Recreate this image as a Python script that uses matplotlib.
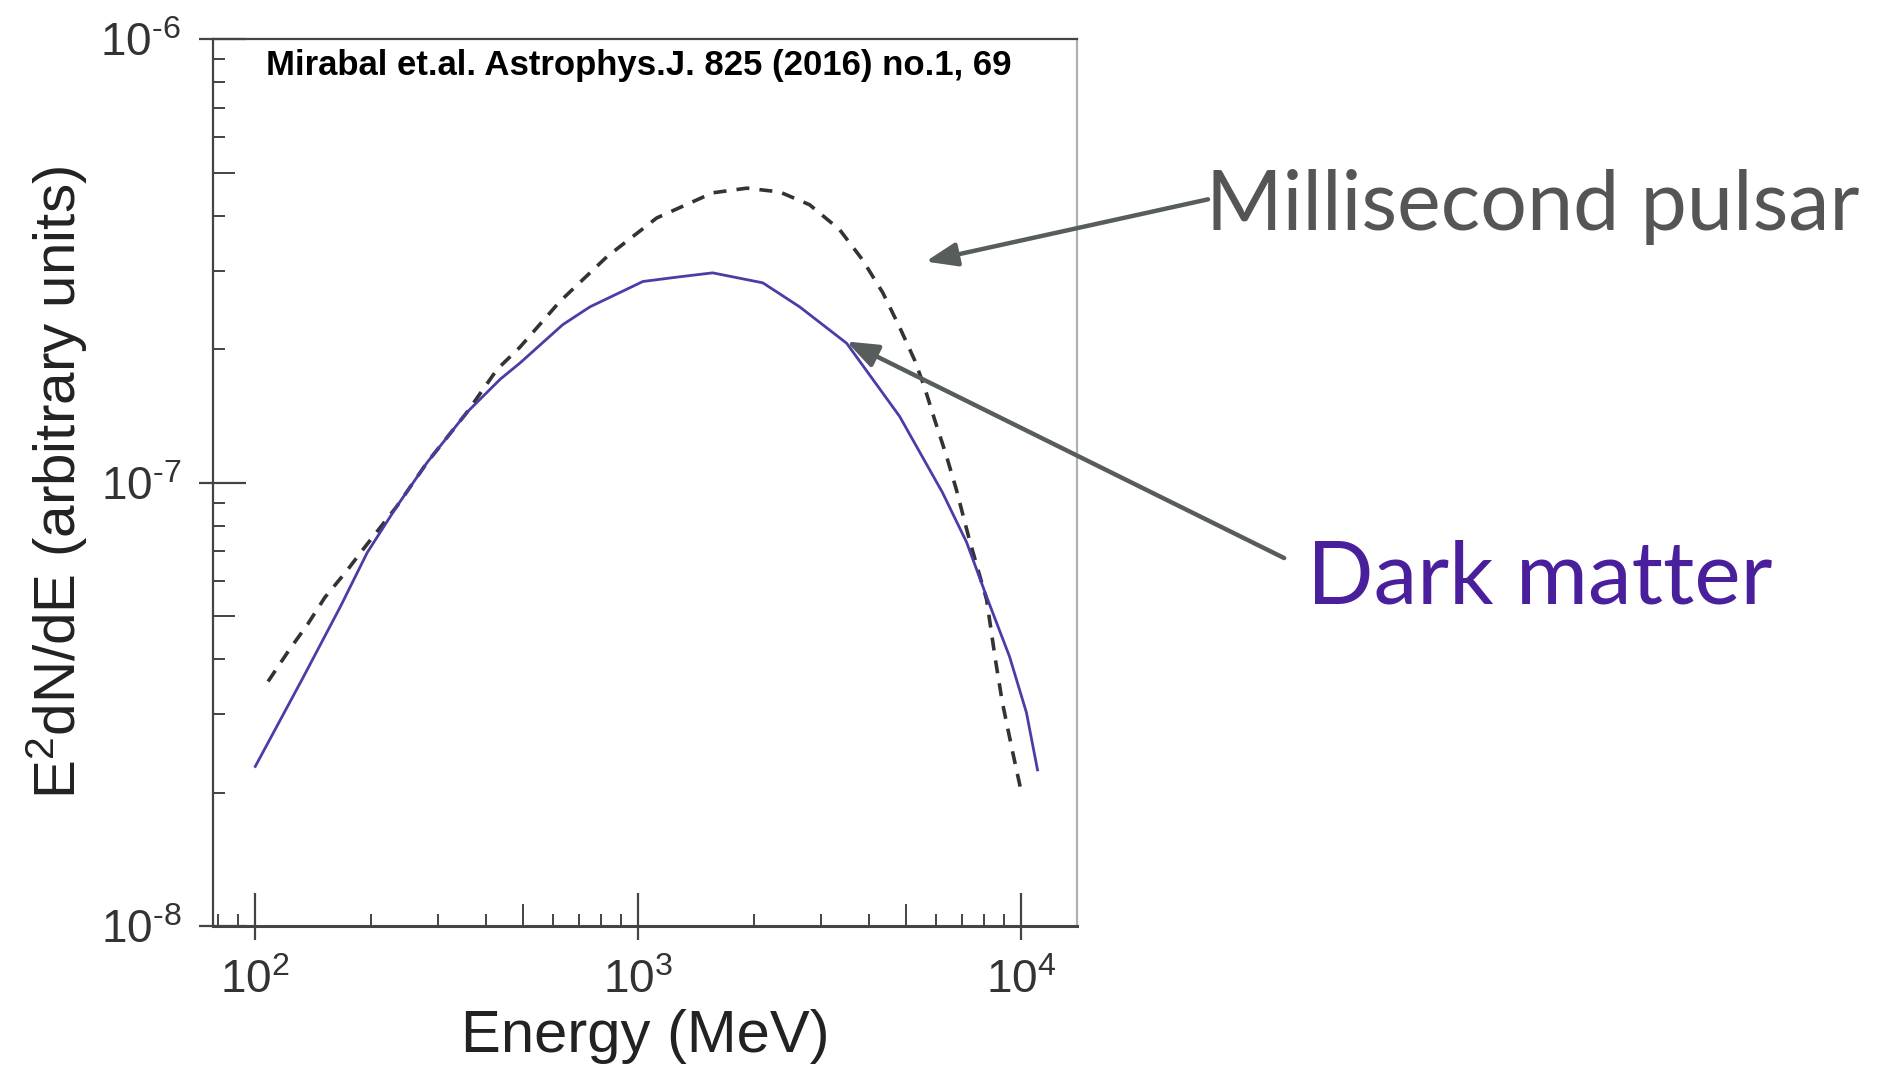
import numpy as np
import matplotlib.pyplot as plt
from matplotlib.ticker import FixedLocator, FuncFormatter, LogLocator, NullFormatter

plt.rcParams['font.family'] = ['Liberation Sans', 'DejaVu Sans']
plt.rcParams['mathtext.fontset'] = 'custom'
plt.rcParams['mathtext.rm'] = 'Liberation Sans'
plt.rcParams['mathtext.it'] = 'Liberation Sans:italic'
plt.rcParams['mathtext.bf'] = 'Liberation Sans:bold'

# gamma-ray spectra, energy in MeV, E^2 dN/dE in arbitrary units
dm_energy = [100, 133, 167, 196, 234, 281, 357, 436, 491, 635, 748, 1028, 1282, 1563,
             2113, 2636, 3499, 4808, 6223, 7194, 8110, 9311, 10304, 11015]
dm_flux = [2.29e-8, 3.62e-8, 5.26e-8, 6.95e-8, 8.83e-8, 1.11e-7, 1.44e-7, 1.71e-7, 1.86e-7,
           2.27e-7, 2.49e-7, 2.84e-7, 2.91e-7, 2.97e-7, 2.82e-7, 2.49e-7, 2.06e-7, 1.41e-7,
           9.49e-8, 7.33e-8, 5.53e-8, 4.05e-8, 3.03e-8, 2.25e-8]

msp_energy = [108, 123, 137, 152, 173, 191, 234, 281, 357, 428, 491, 624, 828, 1117, 1563,
              1919, 2339, 2799, 3350, 3846, 4345, 4808, 5260, 5585, 5929, 6368, 6761, 7311,
              8110, 8551, 8913, 9484, 10000]
msp_flux = [3.56e-8, 4.21e-8, 4.79e-8, 5.51e-8, 6.31e-8, 7.06e-8, 8.83e-8, 1.11e-7, 1.44e-7,
            1.80e-7, 2.02e-7, 2.56e-7, 3.23e-7, 3.95e-7, 4.50e-7, 4.61e-7, 4.52e-7, 4.23e-7,
            3.72e-7, 3.18e-7, 2.68e-7, 2.24e-7, 1.89e-7, 1.64e-7, 1.39e-7, 1.15e-7, 9.65e-8,
            7.44e-8, 5.45e-8, 3.99e-8, 3.20e-8, 2.47e-8, 2.00e-8]

x_decades = [1e2, 1e3, 1e4]
y_decades = [1e-8, 1e-7, 1e-6]

citation = 'Mirabal et.al. Astrophys.J. 825 (2016) no.1, 69'

# arrow heads sit on the curves (data coords), tails next to the labels (figure fraction)
msp_head = (5623, 3.15e-7)
dm_head = (3493, 2.08e-7)


def power_label(v, pos):
    e = int(round(np.log10(v)))
    return r'$10^{\text{%d}}$' % e


fig = plt.figure(figsize=(18.94, 10.66), dpi=100)
ax = fig.add_axes([0.1125, 0.1313, 0.4561, 0.8321])
ax.set_xscale('log')
ax.set_yscale('log')
ax.set_xlim(77.6, 13960)
ax.set_ylim(1e-8, 1e-6)

ax.plot(msp_energy, msp_flux, color='#333333', lw=2.6, ls=(0, (3.6, 2.8)))
ax.plot(dm_energy, dm_flux, color='#4b3ca6', lw=2.0)

tick_color = '#444444'
for axis, decades in ((ax.xaxis, x_decades), (ax.yaxis, y_decades)):
    axis.set_major_locator(FixedLocator(decades))
    axis.set_major_formatter(FuncFormatter(power_label))
    axis.set_minor_locator(LogLocator(base=10, subs=(2, 3, 4, 6, 7, 8, 9)))
    axis.set_minor_formatter(NullFormatter())

ax.tick_params(which='major', direction='in', length=24, width=1.6, color=tick_color,
               labelsize=33, labelcolor='#333333')
ax.tick_params(axis='x', which='major', pad=24)
ax.tick_params(axis='y', which='major', pad=23)
ax.tick_params(which='minor', direction='in', length=8.5, width=1.4, color=tick_color)

# outer half of the decade ticks and the longer ticks at 5
secx = ax.secondary_xaxis('bottom')
secy = ax.secondary_yaxis('left')
for sec, decades in ((secx, x_decades), (secy, y_decades)):
    axis = sec.xaxis if sec is secx else sec.yaxis
    axis.set_major_locator(FixedLocator(decades))
    axis.set_major_formatter(NullFormatter())
    axis.set_minor_locator(LogLocator(base=10, subs=(5,)))
    axis.set_minor_formatter(NullFormatter())
    sec.tick_params(which='major', direction='out', length=10, width=1.6, color=tick_color)
    sec.tick_params(which='minor', direction='in', length=16, width=1.4, color=tick_color)
    for sp in sec.spines.values():
        sp.set_visible(False)

for side in ('left', 'top'):
    ax.spines[side].set_color('#444444')
    ax.spines[side].set_linewidth(1.6)
ax.spines['bottom'].set_color('#444444')
ax.spines['bottom'].set_linewidth(2.2)
ax.spines['right'].set_color('#b0b0b0')
ax.spines['right'].set_linewidth(1.6)

ax.set_xlabel('Energy (MeV)', fontsize=43, color='#222222', va='baseline')
ax.xaxis.set_label_coords(0.5, -0.142)
ax.set_ylabel('E$^2$dN/dE (arbitrary units)', fontsize=42, color='#222222', va='baseline')
ax.yaxis.set_label_coords(-0.1586, 0.5)

ax.text(0.061, 0.9696, citation, transform=ax.transAxes, fontsize=25, fontweight='bold',
        ha='left', va='center', color='black')

arrow = dict(arrowstyle='-|>,head_length=1.9,head_width=0.72', color='#575c5c', lw=3.2,
             shrinkA=0, shrinkB=0, mutation_scale=10)
ax.annotate('', xy=msp_head, xycoords='data', xytext=(0.6378, 0.813),
            textcoords='figure fraction', arrowprops=arrow, annotation_clip=False)
ax.annotate('', xy=dm_head, xycoords='data', xytext=(0.678, 0.4765),
            textcoords='figure fraction', arrowprops=arrow, annotation_clip=False)

fig.text(0.637, 0.7847, 'Millisecond pulsar', fontsize=59.5, family='Lato',
         color='#555555', va='baseline', ha='left')
fig.text(0.690, 0.4334, 'Dark matter', fontsize=63, family='Lato',
         color='#4a1f9c', va='baseline', ha='left')

fig.savefig('out.png', dpi=100)
